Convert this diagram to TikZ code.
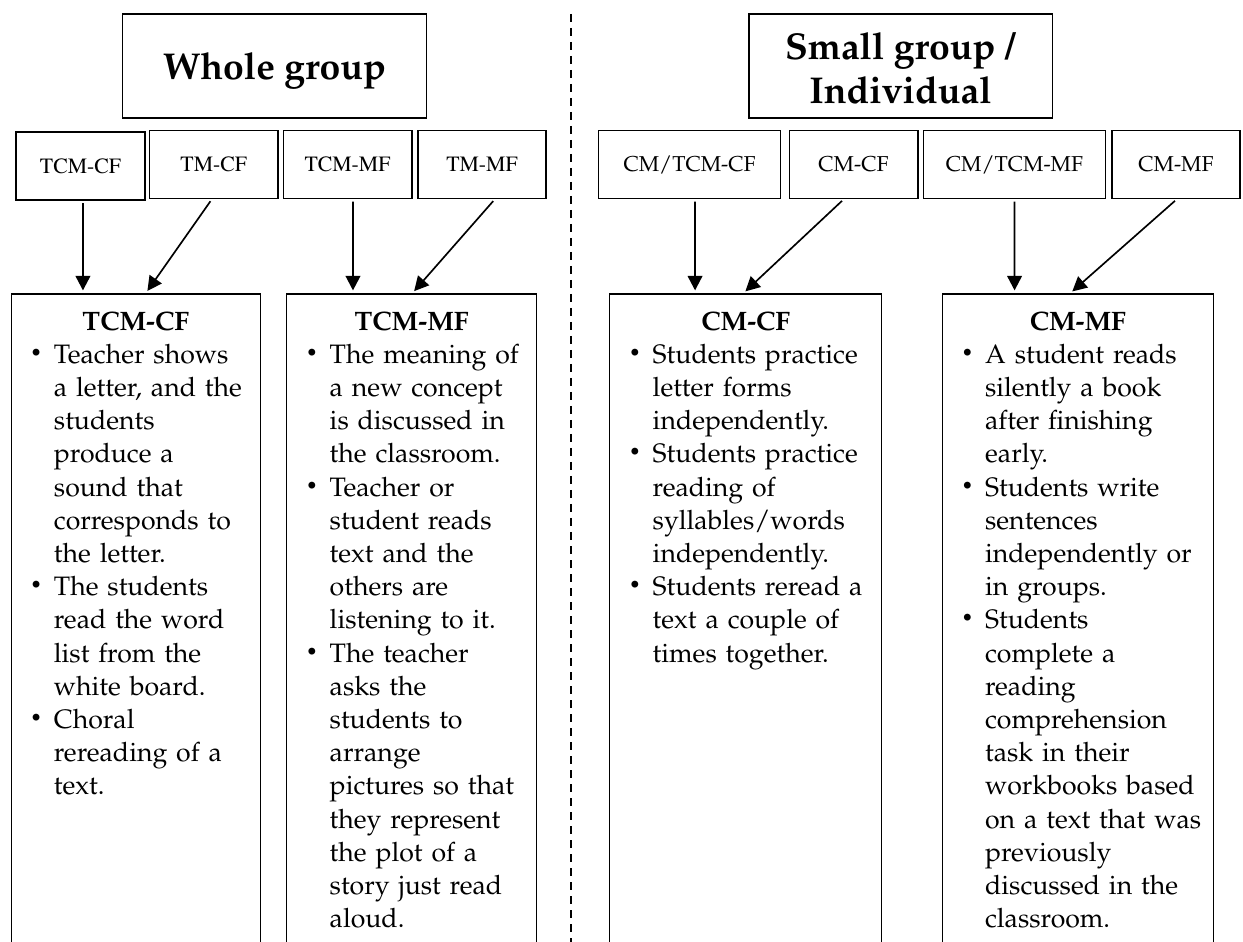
\documentclass[tikz,border=0pt]{standalone}
\usepackage[T1]{fontenc}
\usepackage{mathpazo}
\usepackage{graphicx}
\usetikzlibrary{arrows.meta}

% one bullet item with hanging text, lines broken by hand
\newcommand{\smallbul}{\raisebox{1.75pt}{\scalebox{0.75}{\textbullet}}}
\newcommand{\bitem}[1]{\par\leftskip=0pt\rightskip=0pt plus 1fil\parfillskip=0pt plus 1fil
  \hangindent=19.3pt\hangafter=1\noindent\hspace*{8.6pt}\makebox[10.7pt][l]{\smallbul}%
  {\let\\\newline#1}\par}

\begin{document}
\begin{tikzpicture}[x=0.45pt,y=-0.45pt,>={Triangle[length=6.5pt,width=6.6pt]},
    hdr/.style={draw,line width=0.5pt,minimum width=136.4pt,minimum height=46.8pt,
                align=center,inner sep=0pt,font=\bfseries\fontsize{16.8}{19.8}\selectfont},
    lbl/.style={draw,line width=0.5pt,minimum height=30.6pt,inner sep=0pt,
                text height=6.6pt,text depth=0pt},
    lblT/.style={lbl,font=\fontfamily{ptm}\fontsize{9.8}{12}\selectfont},
    lblP/.style={lbl,font=\fontsize{9.7}{12}\selectfont},
    cbox/.style={draw,line width=0.5pt,anchor=north west,inner sep=0pt,align=center,
                 text height=16.2pt,text depth=300pt,
                 font=\fontsize{12}{14.94}\selectfont},
    arr/.style={->,line width=0.75pt,shorten <=1.2pt,shorten >=1.4pt},
    divider/.style={line width=0.9pt,dash pattern=on 3.6pt off 2.7pt}]
  \useasboundingbox (0,0) rectangle (1243,942);
  \clip (0,0) rectangle (1243,942);

  % whole group
  \node[hdr,text depth=0pt] (whole) at (274.5,66) {Whole group};
  \node[lblT,minimum width=58pt] (tcmcf) at (80.5,166) {TCM-CF};
  \node[lblT,minimum width=57.8pt] (tmcf) at (213.75,164.5) {TM-CF};
  \node[lblT,minimum width=58pt] (tcmmf) at (347.5,164.5) {TCM-MF};
  \node[lblT,minimum width=57.6pt] (tmmf) at (482,164.5) {TM-MF};

  \node[cbox,text width=112.3pt] (bxtcmcf) at (10.5,293.5) {\textbf{TCM-CF}
    \bitem{Teacher shows\\a letter, and the\\students\\produce a\\sound that\\corresponds to\\the letter.}
    \bitem{The students\\read the word\\list from the\\white board.}
    \bitem{Choral\\rereading of a\\text.}};
  \node[cbox,text width=112.4pt] (bxtcmmf) at (286.3,293.5) {\textbf{TCM-MF}
    \bitem{The meaning of\\a new concept\\is discussed in\\the classroom.}
    \bitem{Teacher or\\student reads\\text and the\\others are\\listening to it.}
    \bitem{The teacher\\asks the\\students to\\arrange\\pictures so that\\they represent\\the plot of a\\story just read\\aloud.}};

  \draw[arr] ([xshift=1.1pt]tcmcf.south) -- ([xshift=32.6pt]bxtcmcf.north west);
  \draw[arr] ([xshift=-0.8pt]tmcf.south) -- ([xshift=60.8pt]bxtcmcf.north west);
  \draw[arr] ([xshift=2.5pt]tcmmf.south) -- ([xshift=30pt]bxtcmmf.north west);
  \draw[arr] ([xshift=5.85pt]tmmf.south) -- ([xshift=56.6pt]bxtcmmf.north west);

  % divider
  \coordinate (divtop) at (570.7,14);
  \coordinate (divbot) at (570.7,942);
  \draw[divider] (divtop) -- (divbot);

  % small group / individual
  \node[hdr,text height=34.2pt,text depth=0pt] (small) at (900.5,66) {Small group /\\Individual};
  \node[lblP,minimum width=81.8pt] (cmtcmcf) at (689.6,164.5) {CM/TCM-CF};
  \node[lblP,minimum width=58pt] (cmcf) at (853.5,164.5) {CM-CF};
  \node[lblP,minimum width=81.9pt] (cmtcmmf) at (1014.5,164.5) {CM/TCM-MF};
  \node[lblP,minimum width=57.6pt] (cmmf) at (1176,164.5) {CM-MF};

  \node[cbox,text width=122.4pt] (bxcmcf) at (609.3,293.5) {\textbf{CM-CF}
    \bitem{Students practice\\letter forms\\independently.}
    \bitem{Students practice\\reading of\\syllables/words\\independently.}
    \bitem{Students reread a\\text a couple of\\times together.}};
  \node[cbox,text width=122.1pt] (bxcmmf) at (941.7,293.5) {\textbf{CM-MF}
    \bitem{A student reads\\silently a book\\after finishing\\early.}
    \bitem{Students write\\sentences\\independently or\\in groups.}
    \bitem{Students\\complete a\\reading\\comprehension\\task in their\\workbooks based\\on a text that was\\previously\\discussed in the\\classroom.}};

  \draw[arr] ([xshift=2.4pt]cmtcmcf.south) -- ([xshift=38.6pt]bxcmcf.north west);
  \draw[arr] ([xshift=-4.3pt]cmcf.south) -- ([xshift=60.2pt]bxcmcf.north west);
  \draw[arr] (cmtcmmf.south) -- ([xshift=32.8pt]bxcmmf.north west);
  \draw[arr] ([xshift=0.45pt]cmmf.south) -- ([xshift=57.7pt]bxcmmf.north west);
\end{tikzpicture}
\end{document}
